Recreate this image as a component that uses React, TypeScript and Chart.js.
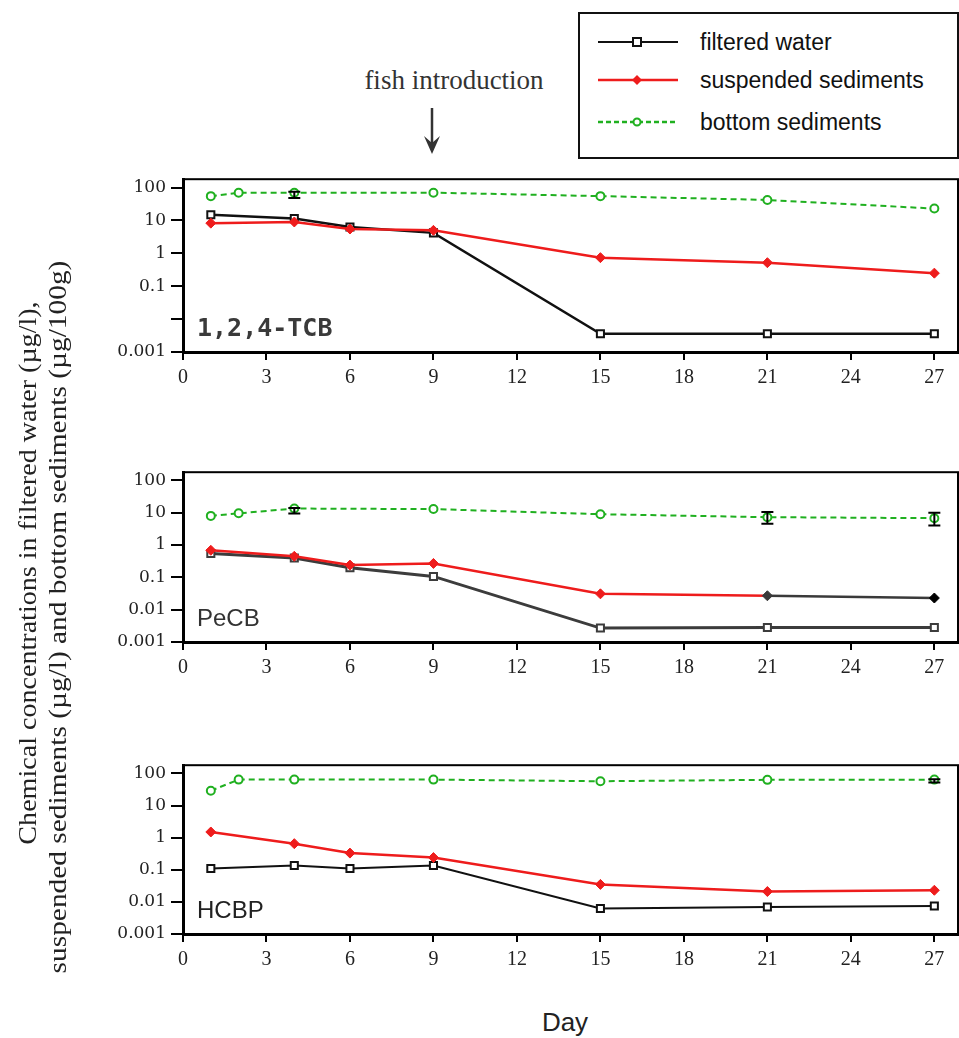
import React, { useEffect, useRef } from 'react';
import { Chart, registerables } from 'chart.js';
Chart.register(...registerables);

// ---------- data ----------
const waterDays = [1, 4, 6, 9, 15, 21, 27];
const suspDays = [1, 4, 6, 9, 15, 21, 27];
const bottomDays = [1, 2, 4, 9, 15, 21, 27];
const xTickValues = [0, 3, 6, 9, 12, 15, 18, 21, 24, 27];
const yTickValues = [0.001, 0.01, 0.1, 1, 10, 100];
const yTickLabels = ['0.001', '0.01', '0.1', '1', '10', '100'];

// 1,2,4-TCB
const tcbWater = [15, 11.5, 6.3, 4.2, 0.0036, 0.0036, 0.0036];
const tcbSusp = [8.3, 9, 5.5, 5, 0.74, 0.52, 0.25];
const tcbBottom = [55, 70, 70, 70, 55, 42, 23];
const tcbBottomErr = [null, null, [48, 75], null, null, null, null];

// PeCB
const pecbWater = [0.55, 0.4, 0.2, 0.107, 0.0027, 0.0028, 0.0028];
const pecbSusp = [0.69, 0.45, 0.24, 0.27, 0.031, 0.027, 0.023];
const pecbBottom = [8, 9.6, 13.5, 13, 9, 7.3, 6.8];
const pecbBottomErr = [null, null, [9.5, 14], null, null, [4.6, 10.5], [4.0, 10]];

// HCBP
const hcbpWater = [0.11, 0.135, 0.11, 0.135, 0.0062, 0.0069, 0.0074];
const hcbpSusp = [1.5, 0.65, 0.33, 0.24, 0.035, 0.021, 0.023];
const hcbpBottom = [29, 64, 64, 64, 57, 63, 64];
const hcbpBottomErr = [null, null, null, null, null, null, [52, 66]];

const RED = '#ee1c1c';
const GREEN = '#20b020';
const BLACK = '#111';

type PanelDef = {
  label: string;
  labelFont: string;
  labelColor: string;
  areaTop: number;
  areaBottom: number;
  water: number[];
  susp: number[];
  bottom: number[];
  err: (number[] | null)[];
  hideLabels: string[];
  waterColor: string;
  waterWidth: number;
  suspTailColor: string | null;
};

const panels: PanelDef[] = [
  {
    label: '1,2,4-TCB', labelFont: 'bold 25px "DejaVu Sans Mono"', labelColor: '#3a3a3a',
    areaTop: 174, areaBottom: 352,
    water: tcbWater, susp: tcbSusp, bottom: tcbBottom, err: tcbBottomErr,
    hideLabels: ['0.01'], waterColor: BLACK, waterWidth: 2.5, suspTailColor: null,
  },
  {
    label: 'PeCB', labelFont: '24px "Liberation Sans"', labelColor: '#333',
    areaTop: 467, areaBottom: 642,
    water: pecbWater, susp: pecbSusp, bottom: pecbBottom, err: pecbBottomErr,
    hideLabels: [], waterColor: '#3c3c3c', waterWidth: 3, suspTailColor: '#3a3a3a',
  },
  {
    label: 'HCBP', labelFont: '24px "Liberation Sans"', labelColor: '#222',
    areaTop: 760, areaBottom: 934,
    water: hcbpWater, susp: hcbpSusp, bottom: hcbpBottom, err: hcbpBottomErr,
    hideLabels: [], waterColor: BLACK, waterWidth: 2, suspTailColor: null,
  },
];

const PAD_TOP = 10;
const X_AXIS_H = 50;
const Y_AXIS_W = 183;
const CANVAS_W = 965;

const framePlugin = {
  id: 'frame',
  afterDraw(chart: any) {
    const { ctx, chartArea } = chart;
    ctx.save();
    ctx.strokeStyle = '#000';
    ctx.lineWidth = 2;
    ctx.strokeRect(chartArea.left, chartArea.top, chartArea.right - chartArea.left, chartArea.bottom - chartArea.top);
    ctx.restore();
  },
};

const errorBarPlugin = {
  id: 'errbars',
  afterDatasetsDraw(chart: any) {
    const ctx = chart.ctx;
    const ys = chart.scales.y;
    chart.data.datasets.forEach((ds: any, di: number) => {
      const errs = ds.errorBars;
      if (!errs) return;
      const meta = chart.getDatasetMeta(di);
      errs.forEach((e: number[] | null, i: number) => {
        if (!e) return;
        const pt = meta.data[i];
        const x = pt.x;
        const y1 = ys.getPixelForValue(e[0]);
        const y2 = ys.getPixelForValue(e[1]);
        ctx.save();
        ctx.strokeStyle = '#000';
        ctx.lineWidth = 2;
        ctx.beginPath();
        ctx.moveTo(x, y1); ctx.lineTo(x, y2);
        ctx.moveTo(x - 6, y1); ctx.lineTo(x + 6, y1);
        ctx.moveTo(x - 6, y2); ctx.lineTo(x + 6, y2);
        ctx.stroke();
        ctx.restore();
      });
    });
  },
};

const panelLabelPlugin = {
  id: 'panelLabel',
  afterDraw(chart: any) {
    const p = chart.options.plugins.panelLabel;
    if (!p) return;
    const { ctx, chartArea } = chart;
    ctx.save();
    ctx.font = p.font;
    ctx.fillStyle = p.color;
    ctx.textBaseline = 'alphabetic';
    ctx.fillText(p.text, chartArea.left + 14, chartArea.bottom - 16);
    ctx.restore();
  },
};

function pts(xs: number[], ys: number[]) {
  return xs.map((x, i) => ({ x, y: ys[i] }));
}

function Panel({ def }: { def: PanelDef }) {
  const ref = useRef<HTMLCanvasElement | null>(null);
  const height = def.areaBottom - def.areaTop + PAD_TOP + X_AXIS_H;
  useEffect(() => {
    if (!ref.current) return;
    const suspPointColors = def.susp.map((_, i) =>
      def.suspTailColor && i >= 5 ? (i === 6 ? '#000' : def.suspTailColor) : RED);
    const chart = new Chart(ref.current, {
      type: 'line',
      data: {
        datasets: [
          {
            label: 'bottom sediments',
            data: pts(bottomDays, def.bottom),
            borderColor: GREEN,
            borderWidth: 2,
            borderDash: [6, 4],
            pointStyle: 'circle',
            pointRadius: 4,
            pointBorderWidth: 2,
            pointBackgroundColor: '#fff',
            pointBorderColor: GREEN,
            tension: 0,
            errorBars: def.err,
          } as any,
          {
            label: 'suspended sediments',
            data: pts(suspDays, def.susp),
            borderColor: RED,
            borderWidth: 2.5,
            pointStyle: 'rectRot',
            pointRadius: 5,
            pointBorderWidth: 1,
            pointBackgroundColor: suspPointColors,
            pointBorderColor: suspPointColors,
            tension: 0,
            segment: {
              borderColor: (c: any) => (def.suspTailColor && c.p0DataIndex >= 5 ? def.suspTailColor : RED),
            },
          },
          {
            label: 'filtered water',
            data: pts(waterDays, def.water),
            borderColor: def.waterColor,
            borderWidth: def.waterWidth,
            pointStyle: 'rect',
            pointRadius: 5,
            pointBorderWidth: 2,
            pointBackgroundColor: '#fff',
            pointBorderColor: def.waterColor,
            tension: 0,
          },
        ],
      },
      options: {
        animation: false,
        responsive: false,
        devicePixelRatio: 1,
        layout: { padding: { top: PAD_TOP, right: 0, left: 0, bottom: 0 } },
        plugins: {
          legend: { display: false },
          tooltip: { enabled: false },
          panelLabel: { text: def.label, font: def.labelFont, color: def.labelColor },
        } as any,
        scales: {
          x: {
            type: 'linear',
            min: 0,
            max: 27.85,
            afterBuildTicks: (s: any) => { s.ticks = xTickValues.map((v) => ({ value: v })); },
            afterFit: (s: any) => { s.height = X_AXIS_H; },
            grid: { display: true, drawOnChartArea: false, drawTicks: true, tickLength: 8, color: '#000', lineWidth: 2 },
            border: { display: true, color: '#000', width: 3 },
            ticks: {
              color: '#222',
              padding: 6,
              maxRotation: 0,
              autoSkip: false,
              font: { family: '"Liberation Serif"', size: 20 },
              callback: (v: any) => String(v),
            },
          },
          y: {
            type: 'logarithmic',
            min: 0.001,
            max: 180,
            afterBuildTicks: (s: any) => { s.ticks = yTickValues.map((v) => ({ value: v })); },
            afterFit: (s: any) => { s.width = Y_AXIS_W; },
            grid: { display: true, drawOnChartArea: false, drawTicks: true, tickLength: 12, color: '#000', lineWidth: 2 },
            border: { display: true, color: '#000', width: 3 },
            ticks: {
              color: '#222',
              padding: 5,
              autoSkip: false,
              font: { family: '"DejaVu Serif"', size: 17 },
              callback: (v: any) => {
                const idx = yTickValues.indexOf(Number(v));
                const lab = idx >= 0 ? yTickLabels[idx] : '';
                return def.hideLabels.includes(lab) ? '' : lab;
              },
            },
          },
        },
      },
      plugins: [framePlugin, errorBarPlugin, panelLabelPlugin],
    });
    return () => chart.destroy();
  }, [def]);
  return (
    <canvas
      ref={ref}
      width={CANVAS_W}
      height={height}
      style={{ position: 'absolute', left: 0, top: def.areaTop - PAD_TOP, width: CANVAS_W, height }}
    />
  );
}

function LegendSample({ kind }: { kind: 'water' | 'susp' | 'bottom' }) {
  const color = kind === 'water' ? BLACK : kind === 'susp' ? RED : GREEN;
  return (
    <svg width={84} height={14} style={{ position: 'absolute', left: 0, top: -7 }}>
      <line x1={2} y1={7} x2={82} y2={7} stroke={color} strokeWidth={kind === 'water' ? 1.8 : 2.5}
        strokeDasharray={kind === 'bottom' ? '5 3' : undefined} />
      {kind === 'water' && <rect x={37} y={3} width={8} height={8} fill="#fff" stroke={BLACK} strokeWidth={2} />}
      {kind === 'susp' && <polygon points="41,2 46,7 41,12 36,7" fill={RED} />}
      {kind === 'bottom' && <circle cx={41} cy={7} r={3.5} fill="#fff" stroke={GREEN} strokeWidth={2} />}
    </svg>
  );
}

const legendItems: { kind: 'water' | 'susp' | 'bottom'; text: string; y: number }[] = [
  { kind: 'water', text: 'filtered water', y: 42 },
  { kind: 'susp', text: 'suspended sediments', y: 80 },
  { kind: 'bottom', text: 'bottom sediments', y: 122 },
];

export default function App() {
  return (
    <div style={{ position: 'absolute', left: 0, top: 0, width: 959, height: 1038, background: '#fff', overflow: 'hidden' }}>
      {panels.map((p) => <Panel key={p.label} def={p} />)}

      {/* legend */}
      <div style={{ position: 'absolute', left: 578, top: 12, width: 377, height: 143, border: '2px solid #111', boxSizing: 'content-box' }} />
      {legendItems.map((it) => (
        <div key={it.kind}>
          <div style={{ position: 'absolute', left: 596, top: it.y }}><LegendSample kind={it.kind} /></div>
          <div style={{ position: 'absolute', left: 700, top: it.y - 14, font: '23px "Liberation Sans"', color: '#111', whiteSpace: 'nowrap', lineHeight: '28px' }}>{it.text}</div>
        </div>
      ))}

      {/* fish introduction annotation */}
      <div style={{ position: 'absolute', left: 454, top: 80, transform: 'translate(-50%, -50%)', font: '27px "Liberation Serif"', color: '#333', whiteSpace: 'nowrap' }}>fish introduction</div>
      <svg width={30} height={52} style={{ position: 'absolute', left: 417, top: 106 }}>
        <line x1={15} y1={2} x2={15} y2={44} stroke="#333" strokeWidth={2.5} />
        <polygon points="7,30 15,48 23,30 15,37" fill="#333" />
      </svg>

      {/* y axis title */}
      <div style={{ position: 'absolute', left: 28, top: 573, transform: 'translate(-50%, -50%) rotate(-90deg) scaleX(1.08)', font: '26px "Liberation Serif"', color: '#222', whiteSpace: 'nowrap' }}>
        Chemical concentrations in filtered water (µg/l),
      </div>
      <div style={{ position: 'absolute', left: 58, top: 617, transform: 'translate(-50%, -50%) rotate(-90deg) scaleX(1.13)', font: '26px "Liberation Serif"', color: '#222', whiteSpace: 'nowrap' }}>
        suspended sediments (µg/l) and bottom sediments (µg/100g)
      </div>

      {/* x axis title */}
      <div style={{ position: 'absolute', left: 565, top: 1022, transform: 'translate(-50%, -50%)', font: '26px "Liberation Sans"', color: '#222', whiteSpace: 'nowrap' }}>Day</div>
    </div>
  );
}
